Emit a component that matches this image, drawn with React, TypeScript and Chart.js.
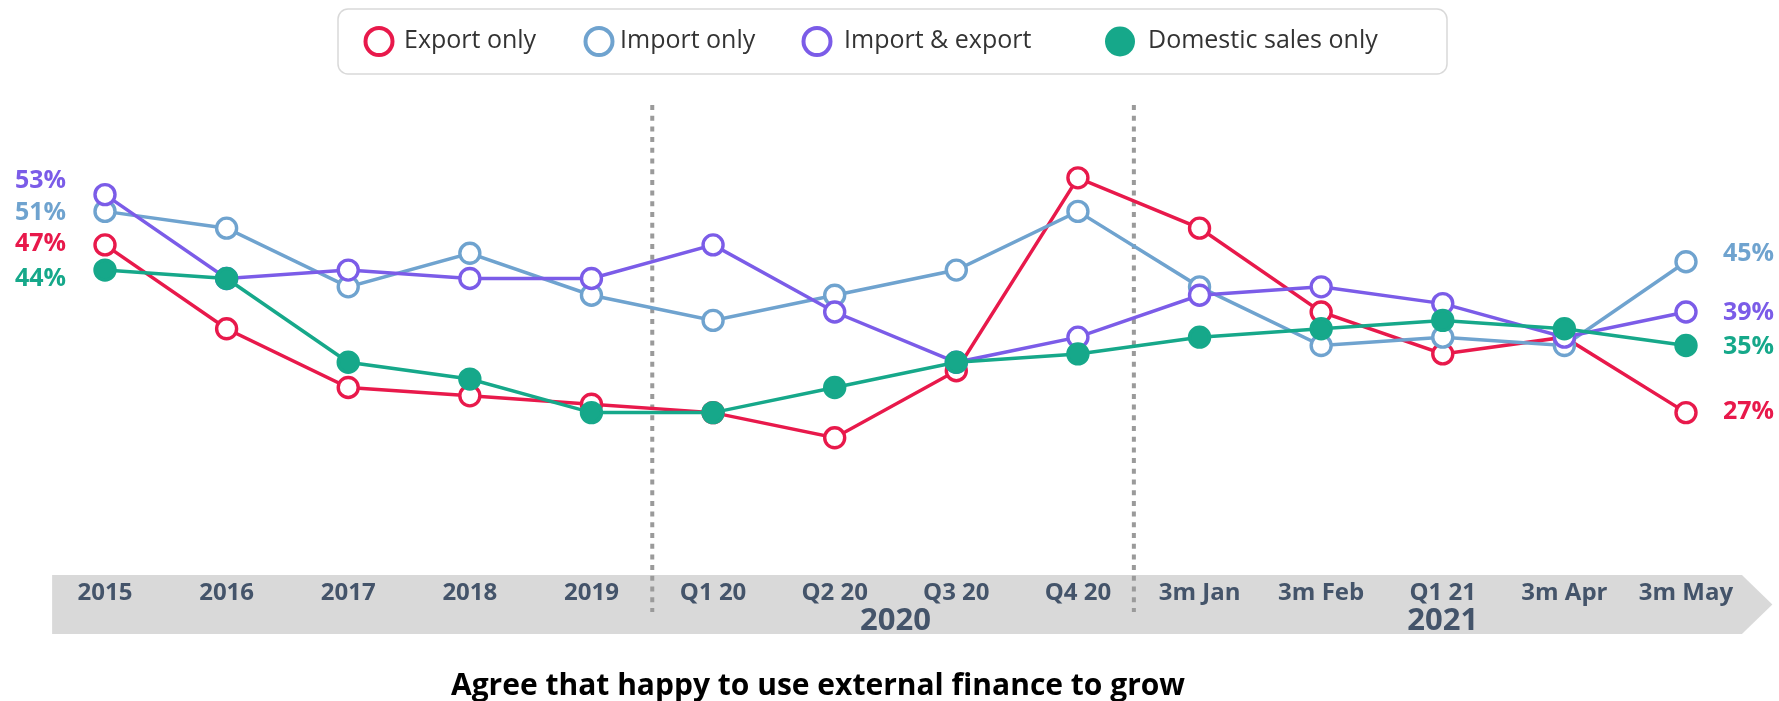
import React, { useEffect, useRef } from 'react';
import { Chart, registerables } from 'chart.js';

Chart.register(...registerables);

// ---------- data ----------
const categories = ['2015', '2016', '2017', '2018', '2019', 'Q1 20', 'Q2 20', 'Q3 20', 'Q4 20', '3m Jan', '3m Feb', 'Q1 21', '3m Apr', '3m May'];
const exportOnly = [47, 37, 30, 29, 28, 27, 24, 32, 55, 49, 39, 34, 36, 27];
const importOnly = [51, 49, 42, 46, 41, 38, 41, 44, 51, 42, 35, 36, 35, 45];
const importAndExport = [53, 43, 44, 43, 43, 47, 39, 33, 36, 41, 42, 40, 36, 39];
const domesticOnly = [44, 43, 33, 31, 27, 27, 30, 33, 34, 36, 37, 38, 37, 35];
const seriesNames = ['Export only', 'Import only', 'Import & export', 'Domestic sales only'];
const yearLabels = ['2020', '2021'];
const yearFirstIndex = [5, 9];
const yearLastIndex = [8, 13];
const dividerPositions = [4.5, 8.46];
const chartTitle = 'Agree that happy to use external finance to grow';

// ---------- styles ----------
const FONT = '"Open Sans", "Noto Sans", sans-serif';
const COLORS = ['#E8194B', '#6FA3CF', '#7B5CE8', '#16A88A'];
const FILLED = [false, false, false, true];
const ORDERS = [4, 3, 2, 1];
const LEFT_NUDGE = [-2.5, 0, -15, 7.5];
const RIGHT_NUDGE = [-1.7, -8.7, 0, 0];
const LEGEND_MARK_X = [379, 599, 817, 1120];
const LEGEND_TEXT_X = [404, 620, 844, 1148];
const AXIS_TEXT = '#44546A';

const seriesValues = [exportOnly, importOnly, importAndExport, domesticOnly];

const decorPlugin = {
  id: 'decor',
  beforeDraw(chart: any) {
    const { ctx } = chart;
    ctx.save();
    ctx.fillStyle = '#ffffff';
    ctx.fillRect(0, 0, chart.width, chart.height);
    ctx.restore();
  },
  beforeDatasetsDraw(chart: any) {
    const { ctx, chartArea: ca } = chart;
    const x = chart.scales.x;
    ctx.save();
    // grey arrow band
    const bTop = ca.bottom - 64;
    const bBot = ca.bottom - 5;
    const bl = x.getPixelForValue(-0.435);
    const br = x.getPixelForValue(13.46);
    const tip = x.getPixelForValue(13.71);
    ctx.fillStyle = '#D9D9D9';
    ctx.beginPath();
    ctx.moveTo(bl, bTop);
    ctx.lineTo(br, bTop);
    ctx.lineTo(tip, (bTop + bBot) / 2);
    ctx.lineTo(br, bBot);
    ctx.lineTo(bl, bBot);
    ctx.closePath();
    ctx.fill();

    // category labels
    ctx.fillStyle = AXIS_TEXT;
    ctx.textAlign = 'center';
    ctx.textBaseline = 'alphabetic';
    ctx.font = `bold 24px ${FONT}`;
    categories.forEach((c, i) => {
      ctx.fillText(c, x.getPixelForValue(i), bTop + 25);
    });
    // year labels
    ctx.font = `bold 31px ${FONT}`;
    yearLabels.forEach((y, i) => {
      ctx.fillText(y, x.getPixelForValue((yearFirstIndex[i] + yearLastIndex[i]) / 2), bTop + 55);
    });

    // dotted dividers
    ctx.strokeStyle = '#9A9A9A';
    ctx.lineWidth = 4;
    ctx.setLineDash([5, 5.7]);
    dividerPositions.forEach((d) => {
      const px = x.getPixelForValue(d);
      ctx.beginPath();
      ctx.moveTo(px, ca.top + 11);
      ctx.lineTo(px, bBot - 22);
      ctx.stroke();
    });
    ctx.restore();
  },
  afterDatasetsDraw(chart: any) {
    const { ctx, chartArea: ca } = chart;
    ctx.save();
    ctx.font = `bold 25px ${FONT}`;
    ctx.textBaseline = 'middle';
    chart.data.datasets.forEach((ds: any, i: number) => {
      const meta = chart.getDatasetMeta(i);
      const pts = meta.data;
      const n = ds.data.length;
      ctx.fillStyle = ds.borderColor;
      ctx.textAlign = 'right';
      ctx.fillText(`${ds.data[0]}%`, ca.left - 39, pts[0].y + LEFT_NUDGE[i] + 1);
      ctx.textAlign = 'left';
      ctx.fillText(`${ds.data[n - 1]}%`, ca.right + 37, pts[n - 1].y + RIGHT_NUDGE[i] + 1);
    });
    ctx.restore();
  },
  afterDraw(chart: any) {
    const { ctx } = chart;
    ctx.save();
    // legend box
    const lx = 338, ly = 9, lw = 1109, lh = 65, r = 10;
    ctx.fillStyle = '#ffffff';
    ctx.strokeStyle = '#D9D9D9';
    ctx.lineWidth = 1.5;
    ctx.beginPath();
    ctx.roundRect(lx, ly, lw, lh, r);
    ctx.fill();
    ctx.stroke();
    const cy = ly + lh / 2;
    chart.data.datasets.forEach((ds: any, i: number) => {
      const mx = LEGEND_MARK_X[i];
      ctx.beginPath();
      if (FILLED[i]) {
        ctx.fillStyle = ds.borderColor;
        ctx.arc(mx, cy, 15, 0, Math.PI * 2);
        ctx.fill();
      } else {
        ctx.fillStyle = '#ffffff';
        ctx.strokeStyle = ds.borderColor;
        ctx.lineWidth = 4;
        ctx.arc(mx, cy, 13.5, 0, Math.PI * 2);
        ctx.fill();
        ctx.stroke();
      }
      ctx.fillStyle = '#333333';
      ctx.font = `25px ${FONT}`;
      ctx.textAlign = 'left';
      ctx.textBaseline = 'alphabetic';
      ctx.fillText(ds.label, LEGEND_TEXT_X[i], 48);
    });
    // title
    ctx.fillStyle = '#000000';
    ctx.font = `bold 30px ${FONT}`;
    ctx.textAlign = 'center';
    ctx.textBaseline = 'alphabetic';
    ctx.fillText(chartTitle, 818, 695);
    ctx.restore();
  },
};

export default function App() {
  const canvasRef = useRef<HTMLCanvasElement | null>(null);

  useEffect(() => {
    const canvas = canvasRef.current;
    if (!canvas) return;
    const datasets = seriesValues.map((vals, i) => ({
      label: seriesNames[i],
      data: vals,
      borderColor: COLORS[i],
      backgroundColor: COLORS[i],
      borderWidth: 3.5,
      pointRadius: 10,
      pointHoverRadius: 10,
      pointBorderWidth: 3.4,
      pointBorderColor: COLORS[i],
      pointBackgroundColor: FILLED[i] ? COLORS[i] : '#ffffff',
      tension: 0,
      fill: false,
      order: ORDERS[i],
      clip: false as any,
    }));
    const chart = new Chart(canvas, {
      type: 'line',
      data: { labels: categories, datasets },
      options: {
        animation: false,
        responsive: false,
        devicePixelRatio: 1,
        events: [],
        layout: { padding: { left: 105, right: 93, top: 94, bottom: 62 } },
        scales: {
          x: { display: false, offset: false },
          y: { display: false, min: 0, max: 65 },
        },
        plugins: {
          legend: { display: false },
          title: { display: false },
          tooltip: { enabled: false },
        },
      },
      plugins: [decorPlugin],
    });
    return () => chart.destroy();
  }, []);

  return (
    <div style={{ position: 'fixed', left: 0, top: 0, width: 1779, height: 701, background: '#fff' }}>
      <canvas ref={canvasRef} width={1779} height={701} style={{ display: 'block', width: 1779, height: 701 }} />
    </div>
  );
}
